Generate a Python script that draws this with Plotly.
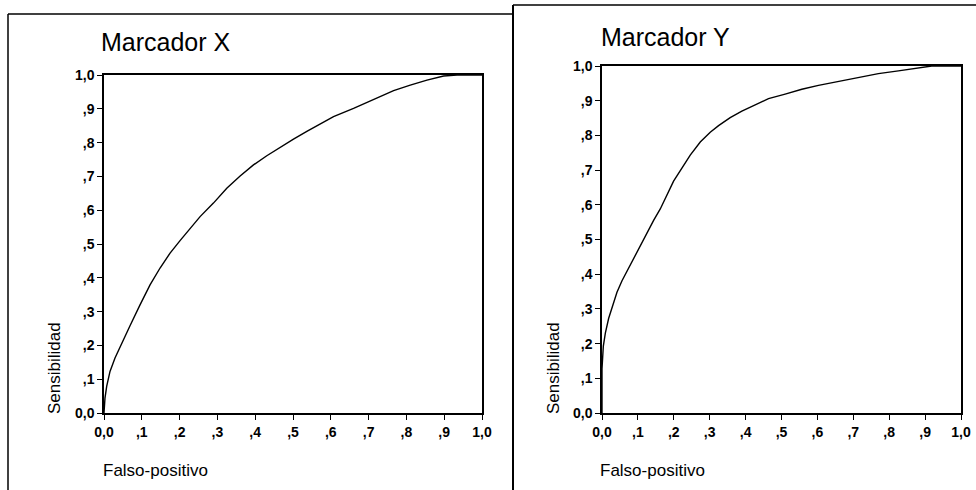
import plotly.graph_objects as go

W, H = 976, 490

# ---- data ----
fp_x = [0.0, 0.0026, 0.0071, 0.0159, 0.0291, 0.0468, 0.0688, 0.0953, 0.1218, 0.1483,
        0.1748, 0.2012, 0.2277, 0.2542, 0.2895, 0.3248, 0.3601, 0.3954, 0.4307, 0.4660,
        0.5013, 0.5366, 0.5719, 0.6072, 0.6602, 0.7131, 0.7661, 0.8102, 0.8544, 0.8985,
        0.9338, 1.0]
sens_x = [0.0, 0.044, 0.079, 0.123, 0.163, 0.207, 0.258, 0.320, 0.379, 0.429,
          0.473, 0.510, 0.547, 0.581, 0.621, 0.665, 0.701, 0.734, 0.761, 0.786,
          0.810, 0.833, 0.855, 0.877, 0.901, 0.928, 0.954, 0.970, 0.985, 0.997,
          1.0, 1.0]

fp_y = [0.0, 0.0, 0.0037, 0.0093, 0.0186, 0.0297, 0.0417, 0.0557, 0.0696, 0.0835,
        0.102, 0.1206, 0.1438, 0.1623, 0.1809, 0.1994, 0.2226, 0.2458, 0.2737, 0.3015,
        0.3247, 0.3571, 0.3896, 0.4267, 0.4638, 0.5102, 0.5566, 0.6030, 0.6586, 0.7143,
        0.7699, 0.8256, 0.8813, 0.9184, 1.0]
sens_y = [0.0, 0.127, 0.193, 0.230, 0.273, 0.310, 0.348, 0.381, 0.409, 0.437,
          0.475, 0.513, 0.555, 0.588, 0.626, 0.668, 0.706, 0.743, 0.781, 0.809,
          0.828, 0.851, 0.870, 0.889, 0.906, 0.919, 0.933, 0.944, 0.955, 0.967,
          0.978, 0.986, 0.994, 1.0, 1.0]

tick_vals = [0.0, 0.1, 0.2, 0.3, 0.4, 0.5, 0.6, 0.7, 0.8, 0.9, 1.0]
tick_text = ["0,0", ",1", ",2", ",3", ",4", ",5", ",6", ",7", ",8", ",9", "1,0"]

titles = ["Marcador X", "Marcador Y"]
x_title = "Falso-positivo"
y_title = "Sensibilidad"

FONT = "Arial, Liberation Sans, sans-serif"

def px_x(p):
    return p / W

def px_y(p):
    return 1 - p / H

fig = go.Figure()

fig.add_trace(go.Scatter(x=fp_x, y=sens_x, mode="lines",
                         line=dict(color="black", width=1.4),
                         xaxis="x", yaxis="y", showlegend=False))
fig.add_trace(go.Scatter(x=fp_y, y=sens_y, mode="lines",
                         line=dict(color="black", width=1.4),
                         xaxis="x2", yaxis="y2", showlegend=False))

axis_common = dict(range=[0, 1], tickvals=tick_vals, ticktext=tick_text,
                   showgrid=False, zeroline=False, showline=True,
                   linecolor="black", linewidth=1.5, mirror=True,
                   ticks="outside", ticklen=5, tickcolor="black", tickwidth=1.2,
                   tickfont=dict(family=FONT, size=14, color="black", weight="bold"),
                   automargin=False, fixedrange=True)

fig.update_layout(
    width=W, height=H,
    margin=dict(l=0, r=0, t=0, b=0, autoexpand=False),
    paper_bgcolor="white", plot_bgcolor="white",
    xaxis=dict(domain=[px_x(104), px_x(482)], anchor="y", **axis_common),
    yaxis=dict(domain=[px_y(413), px_y(75)], anchor="x", **axis_common),
    xaxis2=dict(domain=[px_x(602), px_x(961)], anchor="y2", **axis_common),
    yaxis2=dict(domain=[px_y(413), px_y(66)], anchor="x2", **axis_common),
)

annots = []
# titles
annots.append(dict(text=titles[0], x=px_x(99), y=px_y(42), xref="paper", yref="paper",
                   xanchor="left", yanchor="middle", showarrow=False,
                   font=dict(family=FONT, size=25, color="black")))
annots.append(dict(text=titles[1], x=px_x(599), y=px_y(37), xref="paper", yref="paper",
                   xanchor="left", yanchor="middle", showarrow=False,
                   font=dict(family=FONT, size=25, color="black")))
# x titles
for xl in (101, 598):
    annots.append(dict(text=x_title, x=px_x(xl), y=px_y(470), xref="paper", yref="paper",
                       xanchor="left", yanchor="middle", showarrow=False,
                       font=dict(family=FONT, size=17, color="black")))
# y titles
for xc in (54, 553):
    annots.append(dict(text=y_title, x=px_x(xc), y=px_y(416), xref="paper", yref="paper",
                       xanchor="center", yanchor="bottom", textangle=-90, showarrow=False,
                       font=dict(family=FONT, size=17, color="black")))
fig.update_layout(annotations=annots)

# panel frames
shapes = [
    dict(type="line", xref="paper", yref="paper", x0=px_x(8), x1=px_x(8),
         y0=px_y(14), y1=px_y(490), line=dict(color="black", width=1.5)),
    dict(type="line", xref="paper", yref="paper", x0=px_x(8), x1=px_x(513),
         y0=px_y(14), y1=px_y(14), line=dict(color="black", width=1.5)),
    dict(type="line", xref="paper", yref="paper", x0=px_x(513), x1=px_x(513),
         y0=px_y(5), y1=px_y(490), line=dict(color="black", width=2)),
    dict(type="line", xref="paper", yref="paper", x0=px_x(513), x1=px_x(976),
         y0=px_y(5), y1=px_y(5), line=dict(color="black", width=1.5)),
]
fig.update_layout(shapes=shapes)

fig.write_html("out.html", config={"displayModeBar": False})
